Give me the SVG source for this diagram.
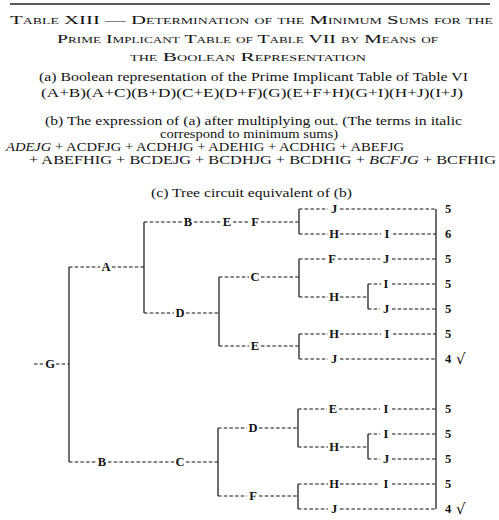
<svg xmlns="http://www.w3.org/2000/svg" width="499" height="520" viewBox="0 0 499 520">
<style>
.t{font-family:"Liberation Serif","Times New Roman",serif;fill:#111}
.sc{font-size:13.5px;font-variant:small-caps}
.b{font-size:13px}
.b2{font-size:12px}
.b3{font-size:11.5px}
.lb{font-family:"Liberation Serif","Times New Roman",serif;font-size:12.5px;font-weight:bold;fill:#111;text-anchor:middle}
.n{font-family:"Liberation Serif","Times New Roman",serif;font-size:12.5px;font-weight:bold;fill:#111;text-anchor:middle}
.ck{font-family:"DejaVu Sans",sans-serif;font-size:15px;fill:#111}
.d{stroke:#111;stroke-width:1.1;stroke-dasharray:3.5,2.2;fill:none}
.s{stroke:#111;stroke-width:1.2;fill:none}
</style>
<rect width="499" height="520" fill="#fff"/>
<line x1="10" y1="4" x2="490" y2="4" stroke="#222" stroke-width="1.5"/>
<g id="title">
<text class="t sc" x="10" y="24" textLength="483" lengthAdjust="spacingAndGlyphs">Table XIII — Determination of the Minimum Sums for the</text>
<text class="t sc" x="57" y="43" textLength="381" lengthAdjust="spacingAndGlyphs">Prime Implicant Table of Table VII by Means of</text>
<text class="t sc" x="130" y="61" textLength="236" lengthAdjust="spacingAndGlyphs">the Boolean Representation</text>
</g>
<g id="partA">
<text class="t b" x="39" y="81" textLength="429" lengthAdjust="spacingAndGlyphs">(a) Boolean representation of the Prime Implicant Table of Table VI</text>
<text class="t b" x="41" y="97" textLength="422" lengthAdjust="spacingAndGlyphs">(A+B)(A+C)(B+D)(C+E)(D+F)(G)(E+F+H)(G+I)(H+J)(I+J)</text>
</g>
<g id="partB">
<text class="t b" x="45" y="125" textLength="417" lengthAdjust="spacingAndGlyphs">(b) The expression of (a) after multiplying out. (The terms in italic</text>
<text class="t b2" x="160" y="138" textLength="178" lengthAdjust="spacingAndGlyphs">correspond to minimum sums)</text>
<text class="t b3" x="6" y="150.5" textLength="398" lengthAdjust="spacingAndGlyphs"><tspan font-style="italic">ADEJG</tspan> + ACDFJG + ACDHJG + ADEHIG + ACDHIG + ABEFJG</text>
<text class="t b3" x="29" y="163.5" textLength="467" lengthAdjust="spacingAndGlyphs">+ ABEFHIG + BCDEJG + BCDHJG + BCDHIG + <tspan font-style="italic">BCFJG</tspan> + BCFHIG</text>
</g>
<g id="partC">
<text class="t b" x="151" y="197" textLength="201" lengthAdjust="spacingAndGlyphs">(c) Tree circuit equivalent of (b)</text>
</g>
<g id="connectors">
<path class="s" d="M69,267V462 M144,222V313 M219,277V346 M218,428V496 M299,209V234 M299,259V297 M299,334V359 M298,409V447 M298,484V509 M368,284V309 M368,434V459 M436,209V509"/>
<path class="d" d="M34,364H45 M56,364H69
M69,267H100 M112,267H144
M69,462H96 M108,462H174 M186,462H218
M144,222H182 M194,222H221 M233,222H249 M261,222H299
M144,313H174 M186,313H219
M219,277H249 M261,277H299
M219,346H249 M261,346H299
M218,428H247 M259,428H298
M218,496H247 M259,496H298
M299,209H328 M340,209H436
M299,234H328 M340,234H381 M393,234H436
M299,259H326 M338,259H380 M392,259H436
M299,297H328 M340,297H368
M368,284H381 M392,284H436
M368,309H380 M392,309H436
M299,334H328 M340,334H381 M393,334H436
M299,359H328 M340,359H436
M298,409H327 M339,409H380 M392,409H436
M298,447H328 M340,447H368
M368,434H380 M392,434H436
M368,459H380 M392,459H436
M298,484H328 M340,484H380 M392,484H436
M298,509H328 M340,509H436"/>
</g>
<g id="labels">
<text class="lb" x="50" y="368">G</text>
<text class="lb" x="106" y="271">A</text>
<text class="lb" x="102" y="466">B</text>
<text class="lb" x="180" y="466">C</text>
<text class="lb" x="188" y="226">B</text>
<text class="lb" x="227" y="226">E</text>
<text class="lb" x="255" y="226">F</text>
<text class="lb" x="180" y="317">D</text>
<text class="lb" x="255" y="281">C</text>
<text class="lb" x="255" y="350">E</text>
<text class="lb" x="253" y="432">D</text>
<text class="lb" x="253" y="500">F</text>
<text class="lb" x="334" y="213">J</text>
<text class="lb" x="334" y="238">H</text>
<text class="lb" x="387" y="238">I</text>
<text class="lb" x="332" y="263">F</text>
<text class="lb" x="386" y="263">J</text>
<text class="lb" x="334" y="301">H</text>
<text class="lb" x="386" y="288">I</text>
<text class="lb" x="386" y="313">J</text>
<text class="lb" x="334" y="338">H</text>
<text class="lb" x="387" y="338">I</text>
<text class="lb" x="334" y="363">J</text>
<text class="lb" x="333" y="413">E</text>
<text class="lb" x="386" y="413">I</text>
<text class="lb" x="334" y="451">H</text>
<text class="lb" x="386" y="438">I</text>
<text class="lb" x="386" y="463">J</text>
<text class="lb" x="334" y="488">H</text>
<text class="lb" x="386" y="488">I</text>
<text class="lb" x="334" y="513">J</text>
</g>
<g id="sums">
<text class="n" x="448" y="213">5</text>
<text class="n" x="448" y="238">6</text>
<text class="n" x="448" y="263">5</text>
<text class="n" x="448" y="288">5</text>
<text class="n" x="448" y="313">5</text>
<text class="n" x="448" y="338">5</text>
<text class="n" x="448" y="363">4</text>
<text class="ck" x="456" y="364">√</text>
<text class="n" x="448" y="413">5</text>
<text class="n" x="448" y="438">5</text>
<text class="n" x="448" y="463">5</text>
<text class="n" x="448" y="488">5</text>
<text class="n" x="448" y="513">4</text>
<text class="ck" x="456" y="514">√</text>
</g>
</svg>
